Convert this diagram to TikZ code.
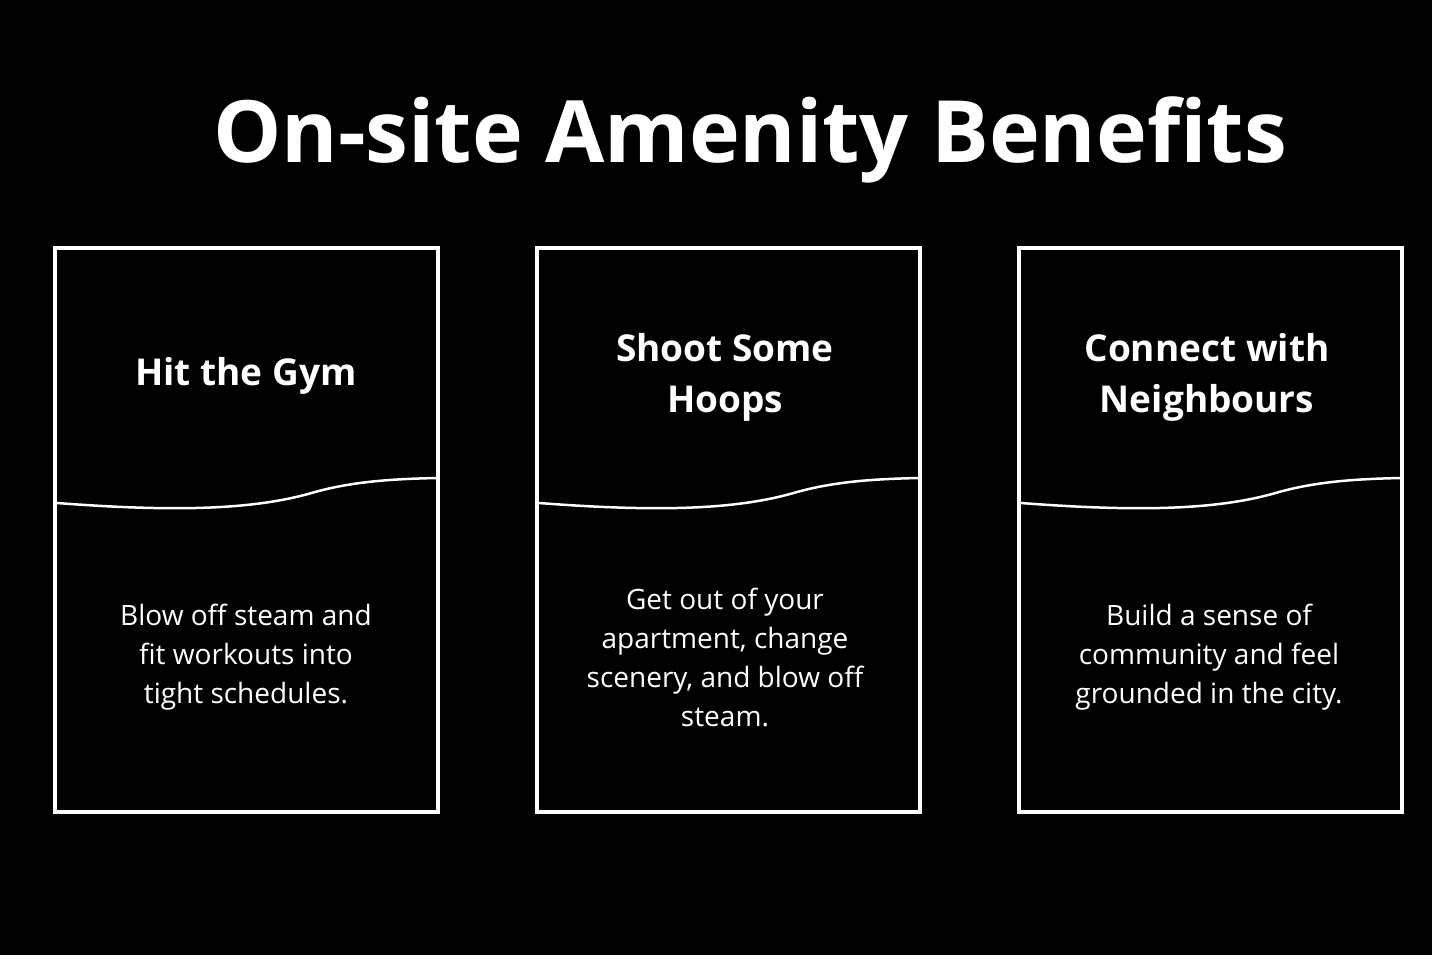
\documentclass[tikz,border=0pt]{standalone}
\usepackage{fontspec}
\setmainfont{Open Sans}
\begin{document}
\begin{tikzpicture}[x=1pt,y=-1pt,
  card/.style={draw=white,line width=3.5pt},
  head/.style={text=white,font=\fontsize{37}{51}\selectfont\bfseries,align=center},
  body/.style={text=white,font=\fontsize{28}{39}\selectfont,align=center}]
\fill[black] (0,0) rectangle (1432,955);
\useasboundingbox (0,0) rectangle (1432,955);
\node[text=white,font=\fontsize{86}{90}\selectfont\bfseries] (title) at (750,140) {On-site Amenity Benefits};
\foreach \x/\n in {55/a,537/b,1019/c}{
  \draw[card] (\x,248) rectangle (\x+383,812);
  \draw[white,line width=2.5pt] (\x+2,503) .. controls (\x+120,512) and (\x+200,510) .. (\x+260,492) .. controls (\x+300,481) and (\x+340,479) .. (\x+381,478);
}
\node[head] (h1) at (246,376) {Hit the Gym};
\node[head] (h2) at (725,377) {Shoot Some\\Hoops};
\node[head] (h3) at (1207,377) {Connect with\\Neighbours};
\node[body] (b1) at (246,657) {Blow off steam and\\fit workouts into\\tight schedules.};
\node[body] (b2) at (725,657) {Get out of your\\apartment, change\\scenery, and blow off\\steam.};
\node[body] (b3) at (1209,657) {Build a sense of\\community and feel\\grounded in the city.};
\end{tikzpicture}
\end{document}
